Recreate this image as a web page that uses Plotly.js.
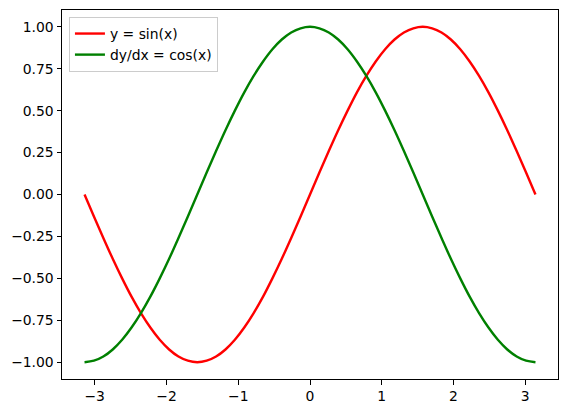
<!DOCTYPE html>
<html><head><meta charset="utf-8">
<script src="https://cdn.plot.ly/plotly-3.0.1.min.js"></script>
<style>html,body{margin:0;padding:0;background:#fff}#chart{width:568px;height:413px}</style>
</head><body><div id="chart"></div>
<script>
const xValues = [-3.142, -3.011, -2.880, -2.749, -2.618, -2.487, -2.356, -2.225, -2.094, -1.963, -1.833, -1.702, -1.571, -1.440, -1.309, -1.178, -1.047, -0.916, -0.785, -0.654, -0.524, -0.393, -0.262, -0.131, 0,
  0.131, 0.262, 0.393, 0.524, 0.654, 0.785, 0.916, 1.047, 1.178, 1.309, 1.440, 1.571, 1.702, 1.833, 1.963, 2.094, 2.225, 2.356, 2.487, 2.618, 2.749, 2.880, 3.011, 3.142];
const sinValues = [0, -0.131, -0.259, -0.383, -0.500, -0.609, -0.707, -0.793, -0.866, -0.924, -0.966, -0.991, -1.000, -0.991, -0.966, -0.924, -0.866, -0.793, -0.707, -0.609, -0.500, -0.383, -0.259, -0.131, 0,
  0.131, 0.259, 0.383, 0.500, 0.609, 0.707, 0.793, 0.866, 0.924, 0.966, 0.991, 1.000, 0.991, 0.966, 0.924, 0.866, 0.793, 0.707, 0.609, 0.500, 0.383, 0.259, 0.131, 0];
const cosValues = [-1.000, -0.991, -0.966, -0.924, -0.866, -0.793, -0.707, -0.609, -0.500, -0.383, -0.259, -0.131, 0, 0.131, 0.259, 0.383, 0.500, 0.609, 0.707, 0.793, 0.866, 0.924, 0.966, 0.991, 1.000,
  0.991, 0.966, 0.924, 0.866, 0.793, 0.707, 0.609, 0.500, 0.383, 0.259, 0.131, 0, -0.131, -0.259, -0.383, -0.500, -0.609, -0.707, -0.793, -0.866, -0.924, -0.966, -0.991, -1.000];
const seriesNames = ["y = sin(x)", "dy/dx = cos(x)"];
const xTicks = [-3, -2, -1, 0, 1, 2, 3];
const yTicks = [-1.00, -0.75, -0.50, -0.25, 0.00, 0.25, 0.50, 0.75, 1.00];

const traces = [
  {x: xValues, y: sinValues, name: seriesNames[0], mode: 'lines', line: {color: '#ff0000', width: 2.4, shape: 'spline', smoothing: 1}},
  {x: xValues, y: cosValues, name: seriesNames[1], mode: 'lines', line: {color: '#008000', width: 2.4, shape: 'spline', smoothing: 1}}
];
const FS = 13.9;
const axisCommon = {showgrid: false, zeroline: false, showline: true, linecolor: '#000', linewidth: 1, mirror: true,
  ticks: 'outside', ticklen: 4.5, tickwidth: 1, tickcolor: '#000', tickfont: {family: 'DejaVu Sans', size: FS, color: '#000'}};
const layout = {
  width: 568, height: 413,
  margin: {l: 62, r: 10, t: 10, b: 34},
  paper_bgcolor: '#fff', plot_bgcolor: '#fff',
  font: {family: 'DejaVu Sans', size: FS, color: '#000'},
  xaxis: Object.assign({}, axisCommon, {range: [-3.456, 3.456], tickvals: xTicks, ticktext: xTicks.map(v => v < 0 ? '\u2212' + Math.abs(v) : String(v))}),
  yaxis: Object.assign({}, axisCommon, {range: [-1.1, 1.1], tickvals: yTicks, ticktext: yTicks.map(v => (v < 0 ? '\u2212' : '') + Math.abs(v).toFixed(2))}),
  showlegend: true,
  legend: {x: 0.014, y: 0.981, xanchor: 'left', yanchor: 'top', bgcolor: 'rgba(255,255,255,0.8)', bordercolor: '#cccccc', borderwidth: 1,
    font: {family: 'DejaVu Sans', size: FS, color: '#000'}, tracegroupgap: 0, itemwidth: 30}
};
Plotly.newPlot('chart', traces, layout, {displayModeBar: false, staticPlot: true});
</script></body></html>
